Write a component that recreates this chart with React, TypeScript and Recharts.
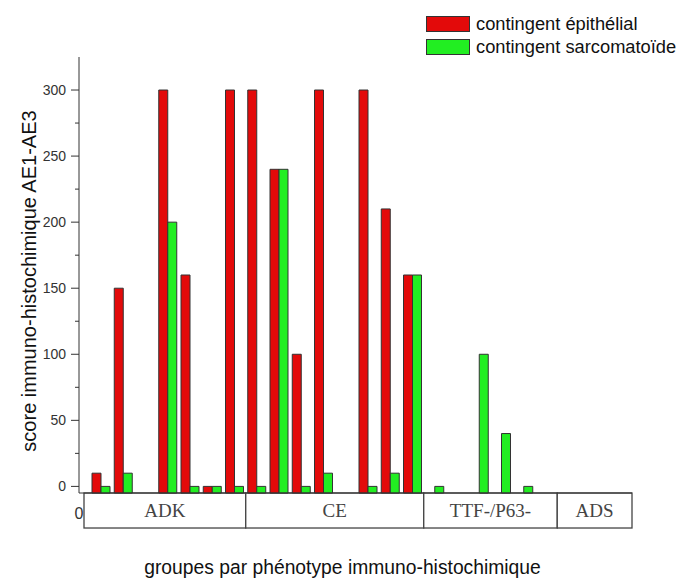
import { BarChart, Bar, XAxis, YAxis, Legend, ReferenceArea, Label } from 'recharts';

// one slot per case, grouped by immunohistochemical phenotype
const cases = [
  'c1', 'c2', 'c3', 'c4', 'c5', 'c6', 'c7', 'c8', 'c9', 'c10', 'c11', 'c12',
  'c13', 'c14', 'c15', 'c16', 'c17', 'c18', 'c19', 'c20', 'c21', 'c22', 'c23', 'c24',
];
const caseGroups = [
  'ADK', 'ADK', 'ADK', 'ADK', 'ADK', 'ADK', 'ADK',
  'CE', 'CE', 'CE', 'CE', 'CE', 'CE', 'CE', 'CE',
  'TTF-/P63-', 'TTF-/P63-', 'TTF-/P63-', 'TTF-/P63-', 'TTF-/P63-', 'TTF-/P63-',
  'ADS', 'ADS', 'ADS',
];
const groupNames = ['ADK', 'CE', 'TTF-/P63-', 'ADS'];
const seriesNames = ['contingent épithélial', 'contingent sarcomatoïde'];

const epithelial = [
  10, 150, null, 300, 160, 0, 300,
  300, 240, 100, 300, null, 300, 210, 160,
  null, null, null, null, null, null,
  null, null, null,
];
const sarcomatoid = [
  0, 10, null, 200, 0, 0, 0,
  0, 240, 0, 10, null, 0, 10, 160,
  0, null, 100, 40, 0, null,
  null, null, null,
];

const yTicks = [0, 25, 50, 75, 100, 125, 150, 175, 200, 225, 250, 275, 300];
const Y_MIN = -5;
const Y_MAX = 325;

const RED = '#e30a0a';
const GREEN = '#22ee22';
const INK = '#333';
const SANS = '"Liberation Sans", Arial, sans-serif';
const SERIF = '"Liberation Serif", "Times New Roman", serif';

const data = cases.map((c, i) => ({
  id: c,
  group: caseGroups[i],
  epi: epithelial[i],
  sarc: sarcomatoid[i],
}));

const groups = groupNames.map((name) => {
  const ids = data.filter((d) => d.group === name).map((d) => d.id);
  return { name, first: ids[0], last: ids[ids.length - 1] };
});

const YTick = (props: any) => {
  const { x, y, payload } = props;
  const major = payload.value % 50 === 0;
  return (
    <g>
      <line x1={x - (major ? 8 : 4)} x2={x} y1={y} y2={y} stroke={INK} strokeWidth={1} />
      {major && (
        <text x={x - 13} y={y} dy={5} textAnchor="end" fontSize={14} fill={INK} fontFamily={SANS}>
          {payload.value}
        </text>
      )}
    </g>
  );
};

const LegendBox = (props: any) => {
  const items = [...(props.payload || [])].sort(
    (a: any, b: any) => seriesNames.indexOf(a.value) - seriesNames.indexOf(b.value)
  );
  return (
    <div style={{ fontFamily: SANS, fontSize: 18.3, color: '#111', whiteSpace: 'nowrap' }}>
      {items.map((p: any) => (
        <div key={p.value} style={{ display: 'flex', alignItems: 'center', height: 22.5 }}>
          <span
            style={{
              display: 'inline-block',
              width: 42,
              height: 14,
              background: p.color,
              border: `1px solid ${INK}`,
              marginRight: 6,
              flexShrink: 0,
            }}
          />
          <span style={{ lineHeight: '22px' }}>{p.value}</span>
        </div>
      ))}
    </div>
  );
};

// group box under the axis; outer boxes run out to the ends of the axis line
const GroupBox = (props: any) => {
  const { x, y, width, height, name, index, count } = props;
  const left = index === 0 ? x - 6 : x;
  const right = index === count - 1 ? x + width + 8 : x + width;
  return (
    <g>
      <rect x={left} y={y} width={right - left} height={height} fill="#fff" stroke="#444" strokeWidth={1.3} />
      <text
        x={(left + right) / 2}
        y={y + height / 2}
        dy={6}
        textAnchor="middle"
        fontSize={19}
        fill="#444"
        fontFamily={SERIF}
      >
        {name}
      </text>
    </g>
  );
};

export default function App() {
  return (
    <div style={{ position: 'absolute', left: 0, top: 0, width: 683, height: 583, background: '#fff' }}>
      <BarChart
        width={683}
        height={583}
        data={data}
        margin={{ top: 57, right: 51, bottom: 0, left: 0 }}
        barSize={9}
        barGap={0}
      >
        <XAxis
          dataKey="id"
          type="category"
          height={90}
          padding={{ left: 11, right: 8 }}
          tick={false}
          tickLine={false}
          axisLine={{ stroke: INK, strokeWidth: 1 }}
        >
          <Label
            content={(p: any) => (
              <text
                x={p.viewBox.x}
                y={p.viewBox.y + 26}
                textAnchor="middle"
                fontSize={16}
                fill={INK}
                fontFamily={SANS}
              >
                0
              </text>
            )}
          />
          <Label
            content={(p: any) => (
              <text
                x={p.viewBox.x + p.viewBox.width / 2 - 13}
                y={p.viewBox.y + 81}
                textAnchor="middle"
                fontSize={19.3}
                fill="#111"
                fontFamily={SANS}
              >
                groupes par phénotype immuno-histochimique
              </text>
            )}
          />
        </XAxis>
        <YAxis
          type="number"
          width={79}
          domain={[Y_MIN, Y_MAX]}
          ticks={yTicks}
          interval={0}
          tickSize={0}
          tickMargin={0}
          tickLine={false}
          tick={<YTick />}
          axisLine={{ stroke: INK, strokeWidth: 1 }}
        >
          <Label
            content={() => {
              const cx = 29;
              const cy = 281;
              return (
                <text
                  x={cx}
                  y={cy}
                  transform={`rotate(-90, ${cx}, ${cy})`}
                  textAnchor="middle"
                  dominantBaseline="central"
                  fontSize={20}
                  fill="#111"
                  fontFamily={SANS}
                >
                  score immuno-histochimique AE1-AE3
                </text>
              );
            }}
          />
        </YAxis>
        <Legend
          layout="vertical"
          align="center"
          verticalAlign="middle"
          content={<LegendBox />}
          wrapperStyle={{ top: 13, left: 426, width: 257 }}
        />
        {groups.map((g, i) => (
          <ReferenceArea
            key={g.name}
            x1={g.first}
            x2={g.last}
            y1={Y_MIN}
            y2={-31.5}
            ifOverflow="visible"
            shape={(p: any) => <GroupBox {...p} name={g.name} index={i} count={groups.length} />}
          />
        ))}
        <Bar
          name={seriesNames[0]}
          dataKey={(d: any) => (d.epi == null ? undefined : [Y_MIN, d.epi])}
          fill={RED}
          stroke={INK}
          strokeWidth={1}
          isAnimationActive={false}
        />
        <Bar
          name={seriesNames[1]}
          dataKey={(d: any) => (d.sarc == null ? undefined : [Y_MIN, d.sarc])}
          fill={GREEN}
          stroke={INK}
          strokeWidth={1}
          isAnimationActive={false}
        />
      </BarChart>
    </div>
  );
}
